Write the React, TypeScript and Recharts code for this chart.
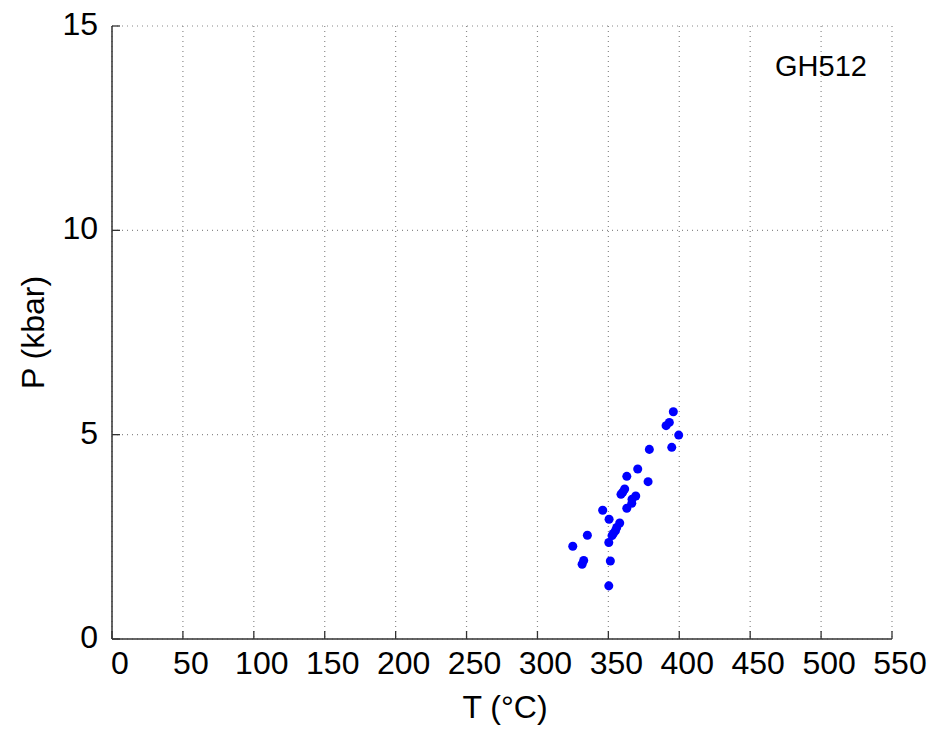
import React from "react"
import { ScatterChart, Scatter, XAxis, YAxis, ZAxis, CartesianGrid } from "recharts"

// temperature (°C) and pressure (kbar) estimates for sample GH512
const temperature = [
  395.8, 393.0, 390.7, 399.6, 394.7, 378.9, 370.7, 363.0, 378.0, 361.5,
  360.1, 358.9, 369.3, 366.7, 366.5, 363.0, 346.0, 350.5, 358.0, 355.9,
  355.0, 353.5, 352.6, 335.2, 350.3, 324.9, 332.6, 331.5, 351.4, 350.3,
]
const pressure = [
  5.56, 5.3, 5.22, 4.99, 4.69, 4.64, 4.16, 3.98, 3.85, 3.67,
  3.59, 3.54, 3.5, 3.42, 3.32, 3.2, 3.15, 2.93, 2.84, 2.73,
  2.65, 2.58, 2.53, 2.54, 2.36, 2.27, 1.92, 1.83, 1.91, 1.3,
]
const tTicks = [0, 50, 100, 150, 200, 250, 300, 350, 400, 450, 500, 550]
const pTicks = [0, 5, 10, 15]
const sampleName = "GH512"

const points = temperature.map((t, i) => ({ t, p: pressure[i] }))

const FONT = "'Liberation Sans', Arial, sans-serif"
const FRAME = "#333"
const TICK_LEN = 8
const FS = 32

// ticks point into the plot, MATLAB style
function BottomTick(props: any) {
  const { x, y, payload } = props
  return (
    <g>
      <line x1={x} y1={y} x2={x} y2={y - TICK_LEN} stroke={FRAME} strokeWidth={1.3} />
      <text x={x + 8} y={y + 35} textAnchor="middle" fontSize={FS} fontFamily={FONT} fill="#000">
        {payload.value}
      </text>
    </g>
  )
}

function LeftTick(props: any) {
  const { x, y, payload } = props
  return (
    <g>
      <line x1={x} y1={y} x2={x + TICK_LEN} y2={y} stroke={FRAME} strokeWidth={1.3} />
      <text x={x - 14} y={y + 9} textAnchor="end" fontSize={FS} fontFamily={FONT} fill="#000">
        {payload.value}
      </text>
    </g>
  )
}

function TopTick(props: any) {
  const { x, y } = props
  return <line x1={x} y1={y} x2={x} y2={y + TICK_LEN} stroke={FRAME} strokeWidth={1.3} />
}

function RightTick(props: any) {
  const { x, y } = props
  return <line x1={x} y1={y} x2={x - TICK_LEN} y2={y} stroke={FRAME} strokeWidth={1.3} />
}

export default function App() {
  return (
    <div style={{ position: "absolute", left: 0, top: 0, width: 937, height: 731, background: "#fff", fontFamily: FONT }}>
      <ScatterChart width={937} height={731} margin={{ top: 26, right: 45, bottom: 12, left: 0 }}>
        <CartesianGrid stroke="#8a8a8a" strokeDasharray="1 4" strokeWidth={1.2} />
        <XAxis
          type="number"
          dataKey="t"
          domain={[0, 550]}
          ticks={tTicks}
          interval={0}
          height={80}
          tickSize={0}
          tickMargin={0}
          tickLine={false}
          axisLine={{ stroke: FRAME, strokeWidth: 1.5 }}
          tick={<BottomTick />}
          label={{ value: "T (°C)", position: "insideBottom", offset: 1, dx: 3, fontSize: FS, fill: "#000", fontFamily: FONT }}
        />
        <XAxis
          xAxisId="top"
          type="number"
          dataKey="t"
          orientation="top"
          domain={[0, 550]}
          ticks={tTicks}
          interval={0}
          height={0}
          tickSize={0}
          tickMargin={0}
          tickLine={false}
          axisLine={{ stroke: FRAME, strokeWidth: 1.5 }}
          tick={<TopTick />}
        />
        <YAxis
          type="number"
          dataKey="p"
          domain={[0, 15]}
          ticks={pTicks}
          interval={0}
          width={112}
          tickSize={0}
          tickMargin={0}
          tickLine={false}
          axisLine={{ stroke: FRAME, strokeWidth: 1.5 }}
          tick={<LeftTick />}
          label={{ value: "P (kbar)", angle: -90, position: "center", dx: -23, fontSize: FS, fill: "#000", fontFamily: FONT }}
        />
        <YAxis
          yAxisId="right"
          type="number"
          dataKey="p"
          orientation="right"
          domain={[0, 15]}
          ticks={pTicks}
          interval={0}
          width={0}
          tickSize={0}
          tickMargin={0}
          tickLine={false}
          axisLine={{ stroke: FRAME, strokeWidth: 1.5 }}
          tick={<RightTick />}
        />
        <ZAxis range={[40, 40]} />
        <Scatter data={points} fill="#0000ff" isAnimationActive={false} />
      </ScatterChart>
      <div
        style={{
          position: "absolute",
          left: 775,
          top: 49,
          fontSize: 29,
          lineHeight: "34px",
          color: "#000",
        }}
      >
        {sampleName}
      </div>
    </div>
  )
}
